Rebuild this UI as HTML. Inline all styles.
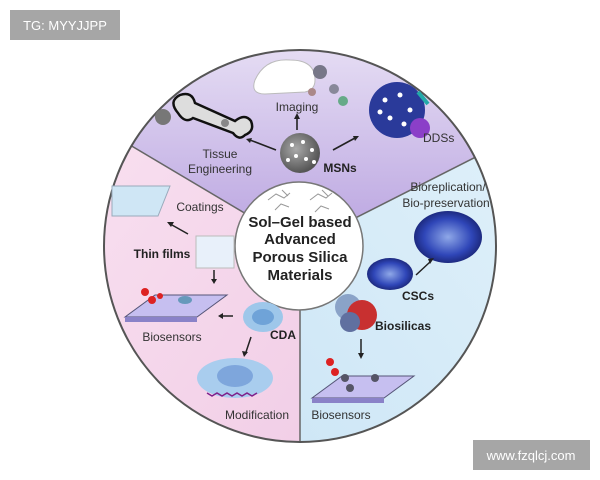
<!DOCTYPE html>
<html><head><meta charset="utf-8"><style>
html,body{margin:0;padding:0;background:#fff;width:600px;height:480px;overflow:hidden}
svg{display:block}
text{font-family:"Liberation Sans",sans-serif}
</style></head><body>
<svg width="600" height="480" viewBox="0 0 600 480" xmlns="http://www.w3.org/2000/svg">
<defs>
<linearGradient id="gp" x1="0" y1="0" x2="0" y2="1"><stop offset="0" stop-color="#f4f0fa"/><stop offset="1" stop-color="#b9a3e0"/></linearGradient>
<linearGradient id="gk" x1="0" y1="0" x2="1" y2="1"><stop offset="0" stop-color="#fbe6f3"/><stop offset="1" stop-color="#f1cde6"/></linearGradient>
<linearGradient id="gb" x1="1" y1="0" x2="0" y2="1"><stop offset="0" stop-color="#e4f3fb"/><stop offset="1" stop-color="#cde6f6"/></linearGradient>
<radialGradient id="gc" cx="0.5" cy="0.5" r="0.5"><stop offset="0" stop-color="#8fa8e8"/><stop offset="0.7" stop-color="#2f46b8"/><stop offset="1" stop-color="#1d2a80"/></radialGradient>
<radialGradient id="gs" cx="0.4" cy="0.4" r="0.6"><stop offset="0" stop-color="#aaa"/><stop offset="1" stop-color="#555"/></radialGradient>
<clipPath id="cc"><circle cx="300" cy="246" r="196"/></clipPath>
</defs>
<rect x="10" y="10" width="110" height="30" fill="#a6a6a6"/>
<text x="65" y="30" font-size="13" fill="#fff" text-anchor="middle">TG: MYYJJPP</text>
<rect x="473" y="440" width="117" height="30" fill="#a6a6a6"/>
<text x="531" y="460" font-size="13" fill="#fff" text-anchor="middle">www.fzqlcj.com</text>

<g clip-path="url(#cc)">
<path d="M300,246 L-20,56 L-20,-20 L620,-20 L620,84 Z" fill="url(#gp)"/>
<path d="M300,246 L-20,56 L-20,500 L300,500 Z" fill="url(#gk)"/>
<path d="M300,246 L620,84 L620,500 L300,500 Z" fill="url(#gb)"/>
<line x1="-20" y1="56" x2="300" y2="246" stroke="#666" stroke-width="1.5"/>
<line x1="620" y1="84" x2="300" y2="246" stroke="#666" stroke-width="1.5"/>
<line x1="300" y1="246" x2="300" y2="500" stroke="#666" stroke-width="1.5"/>
</g>
<circle cx="300" cy="246" r="196" fill="none" stroke="#555" stroke-width="2"/>
<circle cx="299" cy="246" r="64" fill="#fff" stroke="#777" stroke-width="1.5"/>
<g stroke="#999" fill="none" stroke-width="1"><path d="M268,200 l8,-6 l8,4 l6,-5 M275,210 l6,-6 l8,3 M282,190 l6,6 M310,200 l8,-6 l8,4 l6,-5 M315,212 l6,-6 l8,3 M322,190 l6,6"/></g>
<g font-weight="bold" font-size="15" fill="#222" text-anchor="middle">
<text x="300" y="227">Sol–Gel based</text><text x="300" y="244">Advanced</text><text x="300" y="262">Porous Silica</text><text x="300" y="280">Materials</text></g>

<path d="M255,80 q10,-22 35,-20 q25,0 25,20 q0,10 -10,12 l-40,2 q-15,0 -10,-14z" fill="#fff" stroke="#bbb"/>
<circle cx="320" cy="72" r="7" fill="#778"/><circle cx="334" cy="89" r="5" fill="#889"/><circle cx="343" cy="101" r="5" fill="#6a8"/><circle cx="312" cy="92" r="4" fill="#a88"/>
<path d="M178,113 q-10,-12 2,-18 q12,-4 15,8 l40,18 q10,-8 16,0 q4,10 -6,14 q-6,6 -12,-2 l-40,-15 q-8,6 -15,-5z" fill="#ddd" stroke="#111" stroke-width="2.5"/>
<circle cx="163" cy="117" r="8" fill="#777"/><circle cx="225" cy="123" r="4" fill="#888"/>
<circle cx="300" cy="153" r="20" fill="url(#gs)"/>
<g fill="#fff"><circle cx="292" cy="145" r="2"/><circle cx="303" cy="142" r="2"/><circle cx="312" cy="150" r="2"/><circle cx="296" cy="156" r="2"/><circle cx="306" cy="159" r="2"/><circle cx="288" cy="160" r="2"/><circle cx="314" cy="162" r="2"/></g>
<circle cx="397" cy="110" r="28" fill="#2a3a9a"/>
<g fill="#fff"><circle cx="385" cy="100" r="2.5"/><circle cx="400" cy="95" r="2.5"/><circle cx="410" cy="110" r="2.5"/><circle cx="390" cy="118" r="2.5"/><circle cx="380" cy="112" r="2.5"/><circle cx="404" cy="124" r="2.5"/></g>
<circle cx="420" cy="128" r="10" fill="#8b3fc8"/>
<path d="M418,92 l10,12" stroke="#2aa" stroke-width="4"/>
<g stroke="#222" stroke-width="1.6"><line x1="297" y1="130" x2="297" y2="117"/><line x1="276" y1="150" x2="250" y2="140"/><line x1="333" y1="150" x2="355" y2="138"/></g>
<g fill="#222"><path d="M297,113 l-3,6 h6z"/><path d="M246,139 l6,-1 l-2,5z"/><path d="M359,136 l-6,0 l2,5z"/></g>
<g font-size="12" fill="#333" text-anchor="middle"><text x="297" y="111">Imaging</text><text x="220" y="158">Tissue</text><text x="220" y="173">Engineering</text></g>
<text x="423" y="142" font-size="12" fill="#333">DDSs</text>
<text x="340" y="172" font-size="12" font-weight="bold" fill="#222" text-anchor="middle">MSNs</text>

<path d="M112,186 l58,0 l-12,30 l-46,0z" fill="#cfe6f5" stroke="#9ab"/>
<text x="200" y="211" font-size="12" fill="#333" text-anchor="middle">Coatings</text>
<rect x="196" y="236" width="38" height="32" fill="#e8f0fa" stroke="#bbb"/>
<text x="162" y="258" font-size="12" font-weight="bold" fill="#222" text-anchor="middle">Thin films</text>
<line x1="188" y1="234" x2="172" y2="225" stroke="#222" stroke-width="1.5"/><path d="M167,222 l7,0 l-3,5z" fill="#222"/>
<line x1="214" y1="270" x2="214" y2="280" stroke="#222" stroke-width="1.5"/><path d="M214,284 l-3,-5 h6z" fill="#222"/>
<path d="M125,317 l30,-22 l72,0 l-30,22z" fill="#c6bff0" stroke="#557"/>
<path d="M125,317 l72,0 l0,5 l-72,0z" fill="#8a82c8"/>
<g fill="#d22"><circle cx="145" cy="292" r="4"/><circle cx="152" cy="300" r="4"/><circle cx="160" cy="296" r="3"/></g>
<ellipse cx="185" cy="300" rx="7" ry="4" fill="#69b"/>
<text x="172" y="341" font-size="12" fill="#333" text-anchor="middle">Biosensors</text>
<ellipse cx="263" cy="317" rx="20" ry="15" fill="#9ec7ea"/><ellipse cx="263" cy="317" rx="11" ry="8" fill="#6fa3d8"/>
<line x1="233" y1="316" x2="222" y2="316" stroke="#222" stroke-width="1.5"/><path d="M218,316 l5,-3 v6z" fill="#222"/>
<text x="283" y="339" font-size="12" font-weight="bold" fill="#222" text-anchor="middle">CDA</text>
<line x1="251" y1="337" x2="246" y2="352" stroke="#222" stroke-width="1.5"/><path d="M244,357 l-2,-6 l6,1z" fill="#222"/>
<ellipse cx="235" cy="378" rx="38" ry="20" fill="#a9cdee"/><ellipse cx="235" cy="376" rx="18" ry="11" fill="#7ea6dc"/>
<path d="M207,393 l5,3 l5,-3 l5,3 l5,-3 l5,3 l5,-3 l5,3 l5,-3 l5,3 l5,-3" fill="none" stroke="#80208a" stroke-width="1.5"/>
<text x="257" y="419" font-size="12" fill="#333" text-anchor="middle">Modification</text>

<text x="448" y="191" font-size="12" fill="#333" text-anchor="middle">Bioreplication/</text>
<text x="446" y="207" font-size="12" fill="#333" text-anchor="middle">Bio-preservation</text>
<ellipse cx="448" cy="237" rx="34" ry="26" fill="url(#gc)"/>
<ellipse cx="390" cy="274" rx="23" ry="16" fill="url(#gc)"/>
<line x1="416" y1="275" x2="430" y2="262" stroke="#222" stroke-width="1.5"/><path d="M434,258 l-6,1 l2,5z" fill="#222"/>
<text x="418" y="300" font-size="12" font-weight="bold" fill="#222" text-anchor="middle">CSCs</text>
<circle cx="348" cy="307" r="13" fill="#8aa3c8"/><circle cx="362" cy="315" r="15" fill="#c83030"/><circle cx="350" cy="322" r="10" fill="#6070a0"/>
<text x="403" y="330" font-size="12" font-weight="bold" fill="#222" text-anchor="middle">Biosilicas</text>
<line x1="361" y1="339" x2="361" y2="354" stroke="#222" stroke-width="1.5"/><path d="M361,359 l-3,-6 h6z" fill="#222"/>
<path d="M312,398 l30,-22 l72,0 l-30,22z" fill="#c6bff0" stroke="#557"/>
<path d="M312,398 l72,0 l0,5 l-72,0z" fill="#8a82c8"/>
<g fill="#d22"><circle cx="330" cy="362" r="4"/><circle cx="335" cy="372" r="4"/></g>
<g fill="#556"><circle cx="345" cy="378" r="4"/><circle cx="375" cy="378" r="4"/><circle cx="350" cy="388" r="4"/></g>
<text x="341" y="419" font-size="12" fill="#333" text-anchor="middle">Biosensors</text>
</svg>
</body></html>
